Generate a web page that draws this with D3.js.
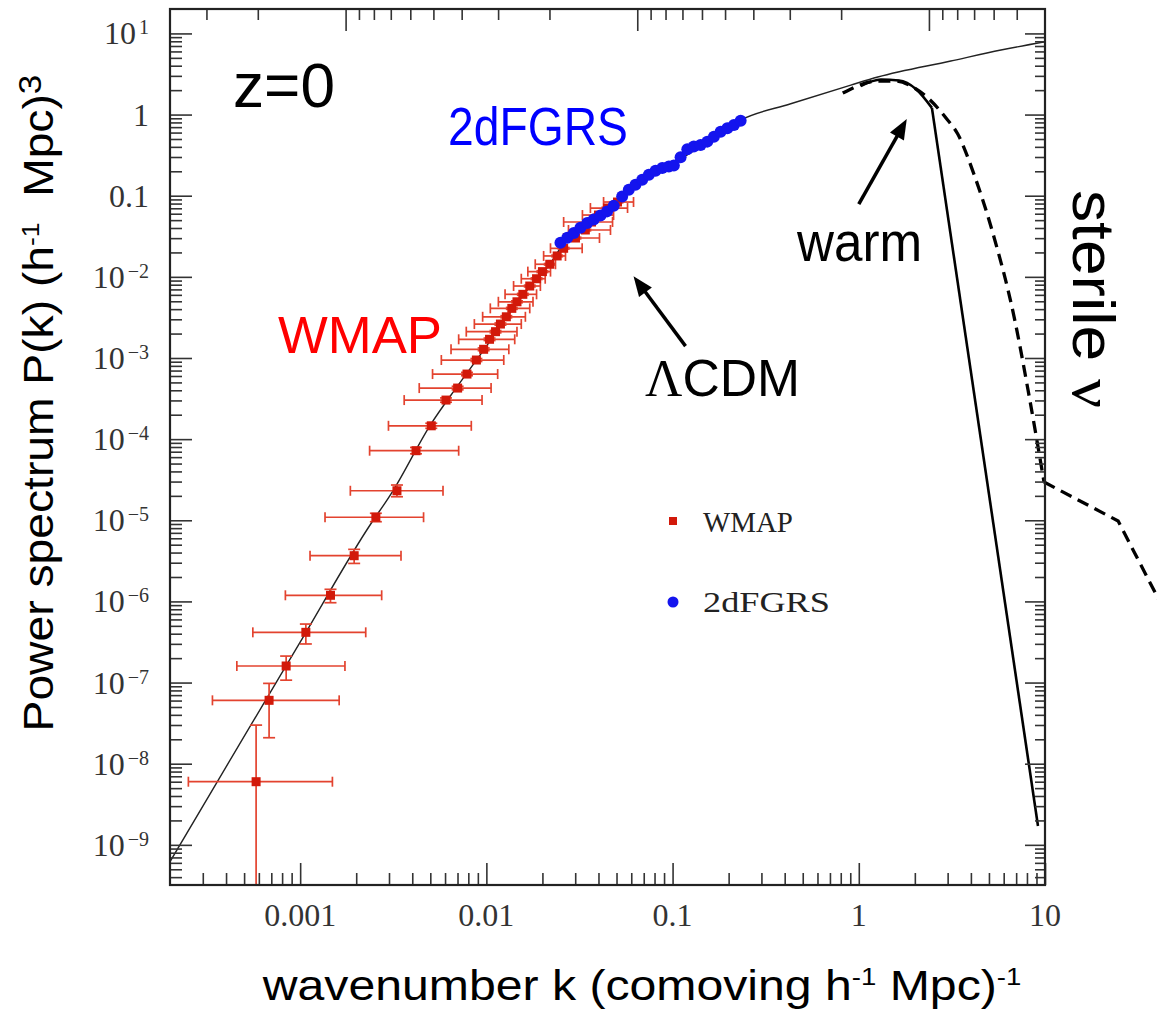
<!DOCTYPE html>
<html><head><meta charset="utf-8">
<script src="https://cdn.jsdelivr.net/npm/d3@7"></script>
<style>
html,body{margin:0;padding:0;background:#fff;}
svg{display:block;}
</style></head><body>
<svg id="chart" width="1157" height="1009"></svg>
<script>
// ---------- data ----------
// LambdaCDM model curve
const lcdmK = [2.0e-4, 3.72e-4, 1.0e-3, 2.28e-3, 3.17e-3, 5.0e-3, 6.96e-3, 9.67e-3, 1.29e-2, 1.655e-2, 2.21e-2, 2.50e-2, 3.33e-2, 4.45e-2, 6.73e-2, 0.1016, 0.1536, 0.232, 0.431, 0.906, 1.265, 3.12, 5.80, 10];
const lcdmP = [6.19e-10, 6.9e-9, 3.15e-7, 7.59e-6, 2.36e-5, 1.49e-4, 4.43e-4, 1.25e-3, 3.22e-3, 6.89e-3, 1.47e-2, 2.25e-2, 4.57e-2, 6.67e-2, 0.156, 0.253, 0.462, 0.857, 1.36, 2.31, 2.90, 4.57, 6.24, 7.90];

// WMAP points with error bars
const wmapK   = [5.80e-4, 6.81e-4, 8.41e-4, 1.073e-3, 1.455e-3, 1.95e-3, 2.55e-3, 3.31e-3, 4.19e-3, 5.06e-3, 6.07e-3, 7.01e-3, 7.87e-3, 8.84e-3, 9.67e-3, 1.04e-2, 1.12e-2, 1.19e-2, 1.28e-2, 1.37e-2, 1.46e-2, 1.57e-2, 1.71e-2, 1.86e-2, 2.0e-2, 2.19e-2, 2.40e-2, 2.60e-2, 3.01e-2, 3.40e-2, 3.67e-2, 4.0e-2, 4.47e-2, 5.06e-2];
const wmapP   = [6.0e-9, 6.04e-8, 1.60e-7, 4.16e-7, 1.19e-6, 3.66e-6, 1.09e-5, 2.31e-5, 7.2e-5, 1.46e-4, 3.03e-4, 4.26e-4, 6.34e-4, 9.44e-4, 1.28e-3, 1.70e-3, 2.11e-3, 2.62e-3, 3.22e-3, 4.09e-3, 4.93e-3, 6.09e-3, 7.71e-3, 9.48e-3, 1.16e-2, 1.43e-2, 1.81e-2, 2.25e-2, 3.01e-2, 3.78e-2, 4.74e-2, 5.78e-2, 7.05e-2, 8.36e-2];
const wmapKlo = [2.51e-4, 3.38e-4, 4.57e-4, 5.57e-4, 8.33e-4, 1.13e-3, 1.36e-3, 1.86e-3, 2.36e-3, 2.98e-3, 3.62e-3, 4.36e-3, 5.14e-3, 5.73e-3, 6.46e-3, 7.10e-3, 7.80e-3, 8.62e-3, 9.55e-3, 1.05e-2, 1.16e-2, 1.26e-2, 1.40e-2, 1.54e-2, 1.67e-2, 1.83e-2, 2.03e-2, 2.21e-2, 2.60e-2, 2.76e-2, 2.60e-2, 3.28e-2, 3.62e-2, 4.26e-2];
const wmapKhi = [1.49e-3, 1.62e-3, 1.74e-3, 2.25e-3, 2.74e-3, 3.48e-3, 4.60e-3, 5.85e-3, 7.10e-3, 8.30e-3, 9.48e-3, 1.06e-2, 1.15e-2, 1.24e-2, 1.32e-2, 1.42e-2, 1.46e-2, 1.54e-2, 1.62e-2, 1.71e-2, 1.78e-2, 1.86e-2, 1.95e-2, 2.07e-2, 2.21e-2, 2.35e-2, 2.66e-2, 3.27e-2, 4.05e-2, 4.64e-2, 4.76e-2, 4.82e-2, 5.73e-2, 6.17e-2];
const wmapPlo = [2.0e-10, 2.09e-8, 1.07e-7, 2.99e-7, 9.64e-7, 2.94e-6, 9.6e-6, 1.95e-5, 6.6e-5, 1.36e-4, 2.85e-4, 4.05e-4, 6.05e-4, 9.05e-4, 1.23e-3, 1.64e-3, 2.04e-3, 2.54e-3, 3.13e-3, 3.98e-3, 4.80e-3, 5.93e-3, 7.52e-3, 9.25e-3, 1.13e-2, 1.40e-2, 1.77e-2, 2.20e-2, 2.94e-2, 3.69e-2, 4.63e-2, 5.65e-2, 6.89e-2, 8.17e-2];
const wmapPhi = [2.99e-8, 9.77e-8, 2.12e-7, 5.26e-7, 1.41e-6, 4.38e-6, 1.22e-5, 2.72e-5, 7.9e-5, 1.57e-4, 3.22e-4, 4.48e-4, 6.65e-4, 9.85e-4, 1.33e-3, 1.76e-3, 2.18e-3, 2.70e-3, 3.32e-3, 4.20e-3, 5.06e-3, 6.25e-3, 7.90e-3, 9.71e-3, 1.19e-2, 1.46e-2, 1.85e-2, 2.30e-2, 3.08e-2, 3.87e-2, 4.85e-2, 5.91e-2, 7.21e-2, 8.55e-2];

// 2dFGRS points
const twodfK = [2.50e-2, 2.72e-2, 2.95e-2, 3.20e-2, 3.48e-2, 3.77e-2, 4.10e-2, 4.45e-2, 4.83e-2, 5.36e-2, 5.82e-2, 6.32e-2, 6.87e-2, 7.46e-2, 8.10e-2, 8.80e-2, 9.55e-2, 0.1016, 0.1104, 0.120, 0.130, 0.1414, 0.1536, 0.1667, 0.1811, 0.1968, 0.2136, 0.232];
const twodfP = [2.63e-2, 3.03e-2, 3.48e-2, 4.02e-2, 4.62e-2, 5.08e-2, 5.69e-2, 6.41e-2, 7.54e-2, 9.80e-2, 0.1186, 0.1365, 0.157, 0.181, 0.203, 0.219, 0.229, 0.2355, 0.2985, 0.374, 0.403, 0.423, 0.464, 0.534, 0.615, 0.678, 0.743, 0.839];

// warm dark matter cut-off (solid) : smooth part then straight drop
const warmK = [1.025, 1.313, 1.641, 2.025, 2.47, 9.17];
const warmP = [2.25, 2.70, 2.63, 2.07, 1.21, 1.71e-9];
// sterile neutrino (dashed) : smooth part then broken straight segments
const sterileK = [0.820, 1.265, 1.58, 1.95, 2.38, 2.94, 3.40, 4.15, 5.32, 6.81, 8.20, 9.88, 24.7, 42.0];
const sterileP = [1.84, 2.59, 2.59, 2.18, 1.56, 0.906, 0.575, 0.185, 0.031, 3.29e-3, 3.49e-4, 2.96e-5, 9.8e-6, 9.3e-7];

// annotation arrows (data coordinates): [kStart, PStart, kEnd, PEnd]
const arrowLCDM = [0.1174, 1.40e-3, 0.0617, 1.02e-2];
const arrowWarm = [1.0, 0.0789, 1.81, 0.881];

// axis ticks
const xTickValues = [0.001, 0.01, 0.1, 1, 10];
const xTickLabels = ["0.001", "0.01", "0.1", "1", "10"];
const yTickValues = [10, 1, 0.1, 1e-2, 1e-3, 1e-4, 1e-5, 1e-6, 1e-7, 1e-8, 1e-9];
const yTickBase   = ["10", "1", "0.1", "10", "10", "10", "10", "10", "10", "10", "10"];
const yTickExp    = ["1", "", "", "\u22122", "\u22123", "\u22124", "\u22125", "\u22126", "\u22127", "\u22128", "\u22129"];
const topMajor = [1000, 100, 10];
const topMinor = [3000, 2000, 900, 800, 700, 600, 500, 400, 300, 200, 90, 80, 70, 60, 50, 40, 30, 20, 9, 8, 7, 6, 5];

// ---------- layout ----------
const svg = d3.select("#chart");
const L = 170, R = 1045, T = 9, B = 885;
const x = d3.scaleLog().domain([2e-4, 10]).range([L, R]);
const y = d3.scaleLog().domain([3.2e-10, 20]).range([B, T]);
const xTop = d3.scaleLog().domain([4000, 4]).range([L, R]);
const SERIF = "'Liberation Serif','Times New Roman',serif";
const SANS = "'Liberation Sans',Arial,Helvetica,sans-serif";

function minors(lo, hi) {
  const out = [];
  for (let e = -12; e <= 4; e++) for (let m = 2; m <= 9; m++) {
    const v = m * Math.pow(10, e);
    if (v > lo * 1.0001 && v < hi * 0.9999) out.push(v);
  }
  return out;
}

svg.append("clipPath").attr("id", "plotclip").append("rect")
  .attr("x", L).attr("y", T).attr("width", R - L).attr("height", B - T);

const plot = svg.append("g").attr("clip-path", "url(#plotclip)");

// LCDM curve
const lcdm = lcdmK.map((k, i) => ({k, p: lcdmP[i]}));
const lineGen = d3.line().x(d => x(d.k)).y(d => y(d.p)).curve(d3.curveMonotoneX);
plot.append("path").datum(lcdm).attr("d", lineGen)
  .attr("fill", "none").attr("stroke", "#222").attr("stroke-width", 1.4);

// WMAP
const wmap = wmapK.map((k, i) => ({k, p: wmapP[i], klo: wmapKlo[i], khi: wmapKhi[i], plo: wmapPlo[i], phi: wmapPhi[i]}));
const eb = plot.append("g").attr("stroke", "#e3432f").attr("stroke-width", 1.7).attr("fill", "none");
const cap = 5;
wmap.forEach(d => {
  const cx = x(d.k), cy = y(d.p);
  eb.append("line").attr("x1", x(d.klo)).attr("x2", x(d.khi)).attr("y1", cy).attr("y2", cy);
  eb.append("line").attr("x1", x(d.klo)).attr("x2", x(d.klo)).attr("y1", cy - cap).attr("y2", cy + cap);
  eb.append("line").attr("x1", x(d.khi)).attr("x2", x(d.khi)).attr("y1", cy - cap).attr("y2", cy + cap);
  eb.append("line").attr("x1", cx).attr("x2", cx).attr("y1", y(d.plo)).attr("y2", y(d.phi));
  eb.append("line").attr("x1", cx - cap - 1).attr("x2", cx + cap + 1).attr("y1", y(d.phi)).attr("y2", y(d.phi));
  eb.append("line").attr("x1", cx - cap - 1).attr("x2", cx + cap + 1).attr("y1", y(d.plo)).attr("y2", y(d.plo));
});
plot.append("g").selectAll("rect").data(wmap).join("rect")
  .attr("x", d => x(d.k) - 4.5).attr("y", d => y(d.p) - 4.5)
  .attr("width", 9).attr("height", 9).attr("fill", "#d2190a");

// 2dFGRS
const twodf = twodfK.map((k, i) => ({k, p: twodfP[i]}));
plot.append("g").selectAll("circle").data(twodf).join("circle")
  .attr("cx", d => x(d.k)).attr("cy", d => y(d.p)).attr("r", 6).attr("fill", "#1414ee");

// warm & sterile curves (not clipped)
const warm = warmK.map((k, i) => ({k, p: warmP[i]}));
svg.append("path").datum(warm.slice(0, 5)).attr("d", lineGen)
  .attr("fill", "none").attr("stroke", "#000").attr("stroke-width", 2.6);
svg.append("path").datum(warm.slice(4)).attr("d", d3.line().x(d => x(d.k)).y(d => y(d.p)))
  .attr("fill", "none").attr("stroke", "#000").attr("stroke-width", 2.6);

const sterile = sterileK.map((k, i) => ({k, p: sterileP[i]}));
svg.append("path").datum(sterile.slice(0, 12)).attr("d", lineGen)
  .attr("fill", "none").attr("stroke", "#000").attr("stroke-width", 3.3).attr("stroke-dasharray", "12,7");
svg.append("path").datum(sterile.slice(11)).attr("d", d3.line().x(d => x(d.k)).y(d => y(d.p)))
  .attr("fill", "none").attr("stroke", "#000").attr("stroke-width", 3.3).attr("stroke-dasharray", "12,7");

// ---------- axes ----------
function styleAxis(g) {
  g.select(".domain").remove();
  g.selectAll(".tick line").attr("stroke", "#333").attr("stroke-width", 1.6);
}
const xMin = minors(2e-4, 10), yMin = minors(3.2e-10, 20);
svg.append("g").attr("transform", `translate(0,${B})`)
  .call(d3.axisBottom(x).tickValues(xTickValues).tickSize(-22).tickSizeOuter(0).tickFormat("")).call(styleAxis);
svg.append("g").attr("transform", `translate(0,${B})`)
  .call(d3.axisBottom(x).tickValues(xMin).tickSize(-12).tickSizeOuter(0).tickFormat("")).call(styleAxis);
svg.append("g").attr("transform", `translate(0,${T})`)
  .call(d3.axisTop(xTop).tickValues(topMajor).tickSize(-22).tickSizeOuter(0).tickFormat("")).call(styleAxis);
svg.append("g").attr("transform", `translate(0,${T})`)
  .call(d3.axisTop(xTop).tickValues(topMinor).tickSize(-11).tickSizeOuter(0).tickFormat("")).call(styleAxis);
svg.append("g").attr("transform", `translate(${L},0)`)
  .call(d3.axisLeft(y).tickValues(yTickValues).tickSize(-22).tickSizeOuter(0).tickFormat("")).call(styleAxis);
svg.append("g").attr("transform", `translate(${L},0)`)
  .call(d3.axisLeft(y).tickValues(yMin).tickSize(-12).tickSizeOuter(0).tickFormat("")).call(styleAxis);
svg.append("g").attr("transform", `translate(${R},0)`)
  .call(d3.axisRight(y).tickValues(yTickValues).tickSize(-20).tickSizeOuter(0).tickFormat("")).call(styleAxis);
svg.append("g").attr("transform", `translate(${R},0)`)
  .call(d3.axisRight(y).tickValues(yMin).tickSize(-10).tickSizeOuter(0).tickFormat("")).call(styleAxis);

svg.append("rect").attr("x", L).attr("y", T).attr("width", R - L).attr("height", B - T)
  .attr("fill", "none").attr("stroke", "#222").attr("stroke-width", 2.2);

// tick labels
svg.append("g").selectAll("text").data(xTickValues).join("text")
  .attr("x", d => x(d)).attr("y", 926).attr("text-anchor", "middle")
  .attr("font-family", SERIF).attr("font-size", 32).attr("fill", "#333")
  .text((d, i) => xTickLabels[i]);

const yl = svg.append("g");
yTickValues.forEach((v, i) => {
  const t = yl.append("text").attr("x", 149).attr("y", y(v) + 11).attr("text-anchor", "end")
    .attr("font-family", SERIF).attr("font-size", 32).attr("fill", "#333");
  t.append("tspan").text(yTickBase[i]);
  if (yTickExp[i]) t.append("tspan").attr("font-size", 20).attr("dx", 3).attr("dy", -10).text(yTickExp[i]);
});

// ---------- texts ----------
function addText(o) {
  const g = svg.append("g").attr("transform", `translate(${o.x},${o.y}) rotate(${o.rot || 0})`);
  const t = g.append("text").attr("font-family", o.family || SANS).attr("font-size", o.size)
    .attr("fill", o.fill || "#000").attr("text-anchor", o.anchor || "start");
  o.parts.forEach(p => {
    const ts = t.append("tspan").text(p.t);
    if (p.size) ts.attr("font-size", p.size);
    if (p.dy) ts.attr("dy", p.dy);
    if (p.family) ts.attr("font-family", p.family);
  });
  if (o.width) {
    const w = t.node().getBBox().width;
    if (w > 0) t.attr("transform", `scale(${o.width / w},1)`);
  }
  return t;
}

addText({x: 53, y: 403, rot: -90, size: 42, anchor: "middle", width: 657, parts: [
  {t: "Power spectrum P(k) (h"}, {t: "-1", size: 24, dy: -14}, {t: "\u00a0 Mpc)", dy: 14}, {t: "3", size: 32, dy: -12}]});
addText({x: 642, y: 1000, size: 42, anchor: "middle", width: 760, parts: [
  {t: "wavenumber k (comoving h"}, {t: "-1", size: 24, dy: -15}, {t: " Mpc)", dy: 15}, {t: "-1", size: 24, dy: -15}]});

addText({x: 233, y: 107, size: 62, width: 102, parts: [{t: "z=0"}]});
addText({x: 448, y: 145, size: 54, width: 180, fill: "#0000ff", parts: [{t: "2dFGRS"}]});
addText({x: 278, y: 353, size: 52, width: 164, fill: "#ff0000", parts: [{t: "WMAP"}]});
addText({x: 645, y: 396, size: 52, width: 155, parts: [{t: "\u039b", family: SERIF}, {t: "CDM"}]});
addText({x: 797, y: 261, size: 56, width: 126, parts: [{t: "warm"}]});
addText({x: 1073, y: 190, rot: 90, size: 60, width: 218, parts: [{t: "sterile "}, {t: "\u03bd", family: SERIF}]});

// legend
svg.append("rect").attr("x", 673 - 4).attr("y", 521 - 4).attr("width", 8).attr("height", 8).attr("fill", "#d2190a");
svg.append("circle").attr("cx", 673).attr("cy", 602).attr("r", 5.5).attr("fill", "#1414ee");
addText({x: 703, y: 532, size: 30, width: 90, family: SERIF, fill: "#222", parts: [{t: "WMAP"}]});
addText({x: 703, y: 612, size: 30, width: 127, family: SERIF, fill: "#222", parts: [{t: "2dFGRS"}]});

// arrows
function arrow(a) {
  const x1 = x(a[0]), y1 = y(a[1]), x2 = x(a[2]), y2 = y(a[3]);
  const ang = Math.atan2(y2 - y1, x2 - x1);
  const hl = 20, hw = 8;
  const bx = x2 - hl * Math.cos(ang), by = y2 - hl * Math.sin(ang);
  svg.append("line").attr("x1", x1).attr("y1", y1).attr("x2", bx + 3 * Math.cos(ang)).attr("y2", by + 3 * Math.sin(ang))
    .attr("stroke", "#000").attr("stroke-width", 3.5);
  const pts = [[x2, y2], [bx - hw * Math.sin(ang), by + hw * Math.cos(ang)], [bx + hw * Math.sin(ang), by - hw * Math.cos(ang)]];
  svg.append("polygon").attr("points", pts.map(p => p.join(",")).join(" ")).attr("fill", "#000");
}
arrow(arrowLCDM);
arrow(arrowWarm);
</script>
</body></html>
